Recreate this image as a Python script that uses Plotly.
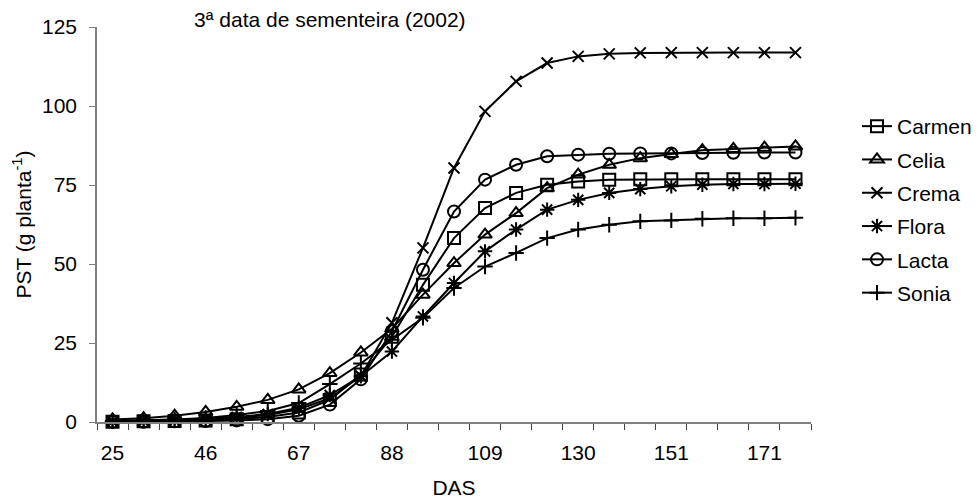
import plotly.graph_objects as go

# Days after sowing (DAS) at each sampling date
das = [25, 32, 39, 46, 53, 60, 67, 74, 81, 88, 95, 102, 109, 116, 123,
       130, 137, 144, 151, 158, 165, 171, 178]

# Total dry weight per plant (g planta-1) for each cultivar
carmen = [0.1, 0.2, 0.3, 0.5, 0.9, 1.6, 3.0, 7.0, 15.0, 27.0, 43.4, 58.2, 67.7,
          72.5, 75.1, 76.1, 76.7, 76.8, 76.8, 76.8, 76.8, 76.8, 76.8]
celia = [0.8, 1.2, 2.0, 3.2, 4.8, 7.0, 10.3, 15.5, 22.0, 29.5, 40.3, 50.3, 59.3,
         66.1, 74.0, 78.3, 81.4, 83.5, 84.8, 86.0, 86.4, 86.8, 87.2]
crema = [0.2, 0.3, 0.5, 0.8, 1.3, 2.2, 4.0, 7.5, 14.5, 31.4, 55.1, 80.4, 98.3,
         107.8, 113.6, 115.7, 116.5, 116.8, 116.9, 116.9, 116.9, 116.9, 116.9]
flora = [0.2, 0.4, 0.6, 1.0, 1.6, 2.5, 4.5, 8.5, 14.5, 22.3, 33.4, 44.0, 54.0,
         60.9, 67.2, 70.3, 72.5, 73.7, 74.6, 75.1, 75.3, 75.3, 75.4]
lacta = [0.1, 0.1, 0.2, 0.3, 0.5, 0.9, 2.0, 5.5, 13.5, 28.7, 48.2, 66.6, 76.7,
         81.4, 84.1, 84.6, 84.9, 85.0, 85.0, 85.1, 85.2, 85.3, 85.3]
sonia = [0.3, 0.5, 0.8, 1.3, 2.2, 3.5, 6.0, 12.0, 18.5, 26.0, 33.0, 42.4, 49.2,
         53.5, 58.2, 60.9, 62.4, 63.5, 63.8, 64.3, 64.5, 64.5, 64.6]

series_names = ["Carmen", "Celia", "Crema", "Flora", "Lacta", "Sonia"]
series_values = [carmen, celia, crema, flora, lacta, sonia]
symbols = ["square-open", "triangle-up-open", "x-thin-open",
           "asterisk-open", "circle-open", "cross-thin-open"]
sizes = [12, 12, 11, 12, 12, 11]

y_ticks = [0, 25, 50, 75, 100, 125]

# Dates are plotted as evenly spaced categories
positions = list(range(len(das)))
label_step = 3

FONT = "Liberation Sans, Arial, sans-serif"
FS = 21

fig = go.Figure()
for name, vals, sym, sz in zip(series_names, series_values, symbols, sizes):
    fig.add_trace(go.Scatter(
        x=positions, y=vals, name=name, legendgroup=name,
        mode="lines+markers",
        line=dict(color="black", width=2),
        marker=dict(symbol=sym, size=sz, color="black",
                    line=dict(color="black", width=2)),
        cliponaxis=False,
    ))

fig.update_layout(
    width=979, height=500,
    margin=dict(l=97, r=168, t=27, b=78, autoexpand=False),
    paper_bgcolor="white", plot_bgcolor="white",
    font=dict(family=FONT, size=FS, color="black"),
    showlegend=True,
    legend=dict(
        xref="container", x=0.8754, xanchor="left",
        y=0.80, yanchor="top",
        font=dict(family=FONT, size=FS, color="black"),
        bgcolor="rgba(0,0,0,0)", borderwidth=0,
        tracegroupgap=3, itemwidth=30,
    ),
    xaxis=dict(
        range=[-0.5, len(das) - 0.5],
        tickmode="array",
        tickvals=positions[::label_step],
        ticktext=[str(d) for d in das[::label_step]],
        ticks="", ticklabelstandoff=11,
        tickfont=dict(family=FONT, size=FS),
        minor=dict(ticks="outside", ticklen=6, tickcolor="#404040",
                   tickwidth=1, tickmode="array",
                   tickvals=[p - 0.5 for p in positions] + [positions[-1] + 0.5]),
        showline=True, linecolor="#808080", linewidth=1.5,
        showgrid=False, zeroline=False, automargin=False,
        title=dict(text="DAS", standoff=17,
                   font=dict(family=FONT, size=FS)),
    ),
    yaxis=dict(
        range=[0, 125],
        tickmode="array", tickvals=y_ticks,
        ticks="outside", ticklen=6, tickcolor="#808080", tickwidth=1,
        ticklabelstandoff=8,
        tickfont=dict(family=FONT, size=FS),
        showline=True, linecolor="#808080", linewidth=1.5,
        showgrid=False, zeroline=False, automargin=False,
        title=dict(text="PST (g planta<sup>-1</sup>)", standoff=5,
                   font=dict(family=FONT, size=FS)),
    ),
    annotations=[dict(
        text="3ª data de sementeira (2002)",
        xref="paper", yref="paper", x=0.133, y=1.018,
        xanchor="left", yanchor="middle", showarrow=False,
        font=dict(family=FONT, size=FS, color="black"),
    )],
)

fig.write_html("out.html")
